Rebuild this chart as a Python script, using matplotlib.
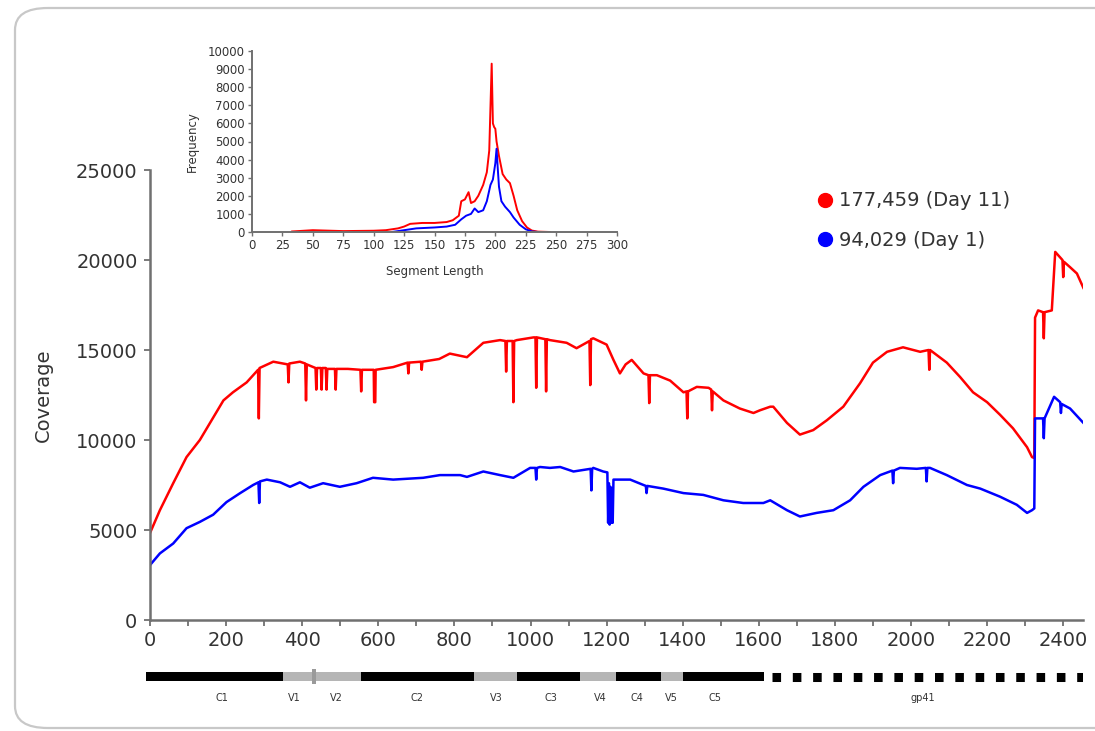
import matplotlib
matplotlib.use("Agg")
import matplotlib.pyplot as plt
from matplotlib.lines import Line2D
from matplotlib.patches import FancyBboxPatch

plt.rcParams['font.family'] = ['DejaVu Sans']

day11_pos = [0, 26, 61, 96, 131, 162, 193, 218, 254, 284, 286, 288, 324, 362, 364, 366,
             394, 408, 410, 412, 429, 435, 437, 439, 449, 451, 453, 462, 464, 466, 486,
             488, 490, 520, 553, 555, 557, 586, 588, 589, 592, 593, 639, 677, 679, 681,
             712, 714, 716, 760, 788, 833, 876, 920, 934, 936, 938, 953, 955, 957, 964,
             1008, 1013, 1015, 1017, 1039, 1041, 1043, 1051, 1095, 1121, 1155, 1157, 1159,
             1165, 1200, 1218, 1235, 1250, 1266, 1297, 1310, 1312, 1314, 1332, 1367, 1402,
             1410, 1412, 1414, 1437, 1468, 1475, 1477, 1479, 1507, 1550, 1586, 1603, 1630,
             1638, 1674, 1708, 1743, 1779, 1822, 1866, 1900, 1937, 1979, 2024, 2046, 2048,
             2050, 2094, 2129, 2163, 2200, 2234, 2268, 2305, 2318, 2324, 2326, 2334, 2347,
             2349, 2351, 2370, 2379, 2398, 2400, 2402, 2418, 2436, 2453]
day11_cov = [4830, 6100, 7600, 9050, 10000, 11100, 12200, 12650, 13200, 13900, 11200, 14000,
             14350, 14200, 13200, 14250, 14350, 14250, 12200, 14200, 14050, 14000, 12800,
             14000, 14000, 12800, 14000, 14000, 12800, 13950, 13950, 12800, 13950, 13950,
             13900, 12700, 13900, 13900, 13900, 12100, 12100, 13900, 14050, 14300, 13700,
             14300, 14350, 13900, 14350, 14500, 14800, 14600, 15400, 15550, 15500, 13800,
             15500, 15500, 12100, 15500, 15550, 15700, 15700, 12900, 15700, 15600, 12700,
             15600, 15550, 15400, 15100, 15500, 13050, 15600, 15650, 15300, 14450, 13700,
             14200, 14450, 13700, 13600, 12050, 13600, 13600, 13300, 12650, 12700, 11200,
             12700, 12950, 12900, 12800, 11650, 12700, 12200, 11750, 11500, 11650, 11850,
             11850, 10950, 10300, 10550, 11100, 11850, 13150, 14300, 14900, 15150, 14900,
             15000, 13900, 15000, 14300, 13500, 12650, 12100, 11400, 10650, 9600, 9050,
             9000, 16800, 17200, 17100, 15650, 17100, 17200, 20450, 20000, 19050, 19900,
             19600, 19250, 18450]

day1_pos = [0, 26, 61, 96, 131, 166, 201, 237, 271, 285, 287, 289, 307, 342, 368, 394, 420,
            455, 499, 543, 586, 639, 718, 762, 815, 833, 876, 920, 955, 999, 1013, 1015,
            1017, 1025, 1051, 1078, 1113, 1158, 1160, 1162, 1165, 1191, 1202, 1204, 1206,
            1208, 1210, 1212, 1214, 1216, 1218, 1227, 1262, 1297, 1303, 1305, 1307, 1349,
            1402, 1454, 1507, 1559, 1612, 1630, 1674, 1708, 1752, 1796, 1840, 1875, 1919,
            1951, 1953, 1955, 1971, 2015, 2039, 2041, 2043, 2050, 2094, 2147, 2182, 2234,
            2278, 2305, 2318, 2324, 2326, 2347, 2349, 2351, 2376, 2392, 2394, 2396, 2418,
            2453]
day1_cov = [3050, 3700, 4250, 5100, 5450, 5850, 6550, 7050, 7500, 7650, 6500, 7700, 7800,
            7650, 7400, 7650, 7350, 7600, 7400, 7600, 7900, 7800, 7900, 8050, 8050, 7950,
            8250, 8050, 7900, 8450, 8450, 7800, 8450, 8500, 8450, 8500, 8250, 8400, 7200,
            8400, 8450, 8250, 8200, 5400, 7600, 5300, 7400, 5400, 7300, 5400, 7800, 7800,
            7800, 7500, 7450, 7050, 7450, 7300, 7050, 6950, 6650, 6500, 6500, 6650, 6100,
            5750, 5950, 6100, 6650, 7400, 8050, 8300, 7600, 8300, 8450, 8400, 8450, 7700,
            8450, 8450, 8050, 7500, 7300, 6850, 6400, 5950, 6100, 6200, 11200, 11200, 10100,
            11200, 12400, 12100, 11500, 12000, 11750, 10950]

# inset: segment length distribution
seg_len_11 = [33, 50, 75, 100, 110, 120, 125, 130, 140, 150, 160, 165, 170, 172, 175, 178,
              180, 183, 186, 190, 193, 195, 197, 198, 199, 200, 201, 203, 206, 209, 212, 215,
              218, 222, 226, 230, 235, 245]
freq_11 = [30, 100, 50, 70, 100, 200, 300, 450, 500, 500, 550, 650, 900, 1700, 1800, 2200,
           1600, 1700, 2000, 2600, 3300, 4500, 9300, 6000, 5800, 5700, 5000, 4200, 3200,
           2900, 2700, 2000, 1200, 600, 250, 80, 20, 0]
seg_len_1 = [115, 125, 135, 150, 160, 167, 172, 176, 180, 183, 186, 190, 193, 196, 198, 200,
             201, 202, 203, 205, 208, 212, 215, 220, 225, 230, 235]
freq_1 = [0, 100, 200, 250, 300, 400, 700, 900, 1000, 1300, 1100, 1200, 1700, 2600, 2900,
          3800, 4600, 3500, 2500, 1700, 1400, 1100, 800, 400, 150, 30, 0]

# env gene regions
region_names = ['C1', 'V1', 'V2', 'C2', 'V3', 'C3', 'V4', 'C4', 'V5', 'C5']
region_starts = [-10, 350, 431, 555, 852, 965, 1130, 1224, 1344, 1401]
region_ends = [350, 431, 555, 852, 965, 1130, 1224, 1344, 1401, 1614]
region_label_x = [189, 378, 491, 701, 910, 1054, 1183, 1280, 1369, 1485]
gp41_start, gp41_end, gp41_label_x = 1635, 2460, 2032

RED = '#ff0000'
BLUE = '#0000ff'
AXC = '#707070'
TXT = '#333333'

W, H = 1095, 731
fig = plt.figure(figsize=(W / 100, H / 100), dpi=100)

# rounded frame around everything
frame = FancyBboxPatch((15 / W, 1 - 728 / H), 1.2, (728 - 8) / H,
                       boxstyle="round,pad=0,rounding_size=0.03",
                       transform=fig.transFigure, facecolor='none',
                       edgecolor='#c8c8c8', linewidth=1.6, clip_on=False)
fig.patches.append(frame)


def px_axes(x0, y0, x1, y1):
    return fig.add_axes([x0 / W, 1 - y1 / H, (x1 - x0) / W, (y1 - y0) / H])


# main chart
ax = px_axes(150, 170, 1083, 620)
ax.plot(day11_pos, day11_cov, color=RED, lw=1.8)
ax.plot(day1_pos, day1_cov, color=BLUE, lw=1.8)
ax.set_xlim(0, 2452)
ax.set_ylim(0, 25000)
ax.set_yticks(range(0, 25001, 5000))
ax.set_xticks(range(0, 2401, 200))
ax.set_xticks(range(100, 2451, 200), minor=True)
for s in ['top', 'right']:
    ax.spines[s].set_visible(False)
for s in ['left', 'bottom']:
    ax.spines[s].set_color(AXC)
    ax.spines[s].set_linewidth(1.8)
ax.tick_params(which='both', direction='out', length=4, width=1.3, color=AXC,
               labelsize=14, labelcolor=TXT)
ax.tick_params(axis='y', pad=5)
ax.tick_params(axis='x', pad=4)
ax.set_ylabel('Coverage', fontsize=14, color=TXT)
ax.yaxis.set_label_coords(-0.104, 0.5)

handles = [Line2D([], [], marker='o', color=c, ls='none', markersize=10) for c in (RED, BLUE)]
fig.legend(handles, ['177,459 (Day 11)', '94,029 (Day 1)'], loc='upper left',
           bbox_to_anchor=(796 / W, 1 - 174 / H), frameon=False, fontsize=14,
           handletextpad=0.1, labelspacing=1.05, handlelength=1.2,
           labelcolor=TXT)

# inset histogram
ins = px_axes(252, 51, 617, 232)
ins.plot(seg_len_11, freq_11, color=RED, lw=1.4)
ins.plot(seg_len_1, freq_1, color=BLUE, lw=1.4)
ins.set_xlim(0, 300)
ins.set_ylim(0, 10000)
ins.set_xticks(range(0, 301, 25))
ins.set_yticks(range(0, 10001, 1000))
for s in ['top', 'right']:
    ins.spines[s].set_visible(False)
for s in ['left', 'bottom']:
    ins.spines[s].set_color(AXC)
    ins.spines[s].set_linewidth(1.4)
ins.tick_params(direction='out', length=3, width=1, color=AXC, labelsize=8.5,
                labelcolor=TXT, pad=2)
ins.set_xlabel('Segment Length', fontsize=8.5, color=TXT)
ins.set_ylabel('Frequency', fontsize=8.5, color=TXT)
ins.xaxis.set_label_coords(0.5, -0.18)
ins.yaxis.set_label_coords(-0.145, 0.5)

# gene map under the x axis
gx = px_axes(150, 660, 1083, 712)
gx.set_xlim(ax.get_xlim())
gx.set_ylim(52, 0)
gx.axis('off')
for name, a, b in zip(region_names, region_starts, region_ends):
    col = '#000000' if name.startswith('C') else '#b5b5b5'
    gx.broken_barh([(a, b - a)], (12, 9), facecolors=col, clip_on=False)
gx.broken_barh([(427, 8)], (9, 15), facecolors='#9a9a9a', clip_on=False)
gx.hlines(16.5, gp41_start, gp41_end, color='black', lw=6.5,
          linestyles=(0, (0.95, 1.3)), capstyle='butt')
for name, lx in zip(region_names, region_label_x):
    gx.text(lx, 38, name, ha='center', va='center', fontsize=7, color=TXT)
gx.text(gp41_label_x, 38, 'gp41', ha='center', va='center', fontsize=7, color=TXT)

fig.savefig('out.png', dpi=100)
